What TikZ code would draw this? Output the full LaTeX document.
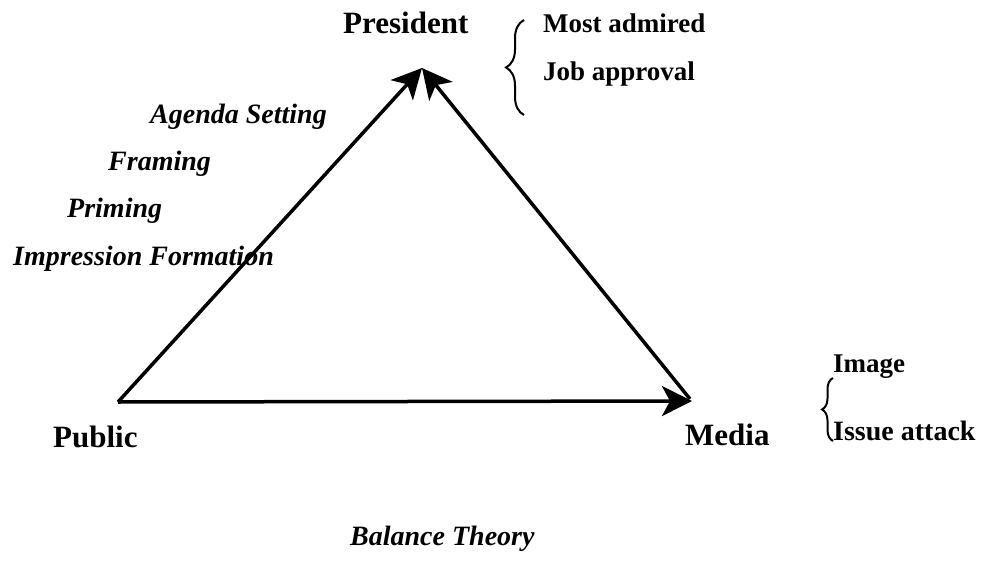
\documentclass[tikz,border=0pt]{standalone}
\usepackage{fontspec}
\setmainfont{Liberation Serif}
\usetikzlibrary{arrows.meta,decorations.pathreplacing}
\begin{document}
\begin{tikzpicture}[x=1pt,y=-1pt,
  big/.style={font=\fontsize{31}{31}\selectfont\bfseries,anchor=base west,inner sep=0pt},
  small/.style={font=\fontsize{27}{27}\selectfont\bfseries,anchor=base west,inner sep=0pt},
  ital/.style={font=\fontsize{28}{28}\selectfont\bfseries\itshape,anchor=base west,inner sep=0pt},
  edge/.style={line width=3.5pt,-{Stealth[length=30pt,width=30pt,inset=8pt]}},
  bracestyle/.style={line width=2pt,decorate,decoration={brace,amplitude=#1}}]
\useasboundingbox (0,0) rectangle (988,562);
\coordinate (pub) at (118,402);
\coordinate (pres) at (422,68);
\coordinate (med) at (692,401);
\coordinate (medc) at (690,399);
\draw[edge] (pub) -- (pres);
\draw[edge] (medc) -- (pres);
\draw[edge] (pub) -- (med);
\node[big] (tpres) at (343,33) {President};
\node[big] (tpub) at (53,447) {Public};
\node[big] (tmed) at (685,445) {Media};
\node[small] (most) at (543,32) {Most admired};
\node[small] (job) at (543,80) {Job approval};
\node[small] (img) at (833,372) {Image};
\node[small,font=\fontsize{28}{28}\selectfont\bfseries] (issue) at (833,440) {Issue attack};
\node[ital] (agenda) at (150,123) {Agenda Setting};
\node[ital] (framing) at (108,170) {Framing};
\node[ital] (priming) at (67,217) {Priming};
\node[ital] (impr) at (13,265) {Impression Formation};
\node[ital] (balance) at (350,545) {Balance Theory};
\coordinate (b1a) at (524,115);
\coordinate (b1b) at (524,20);
\coordinate (b2a) at (833,441);
\coordinate (b2b) at (833,378);
\draw[bracestyle=18pt] (b1a) -- (b1b);
\draw[bracestyle=11pt] (b2a) -- (b2b);
\end{tikzpicture}
\end{document}
